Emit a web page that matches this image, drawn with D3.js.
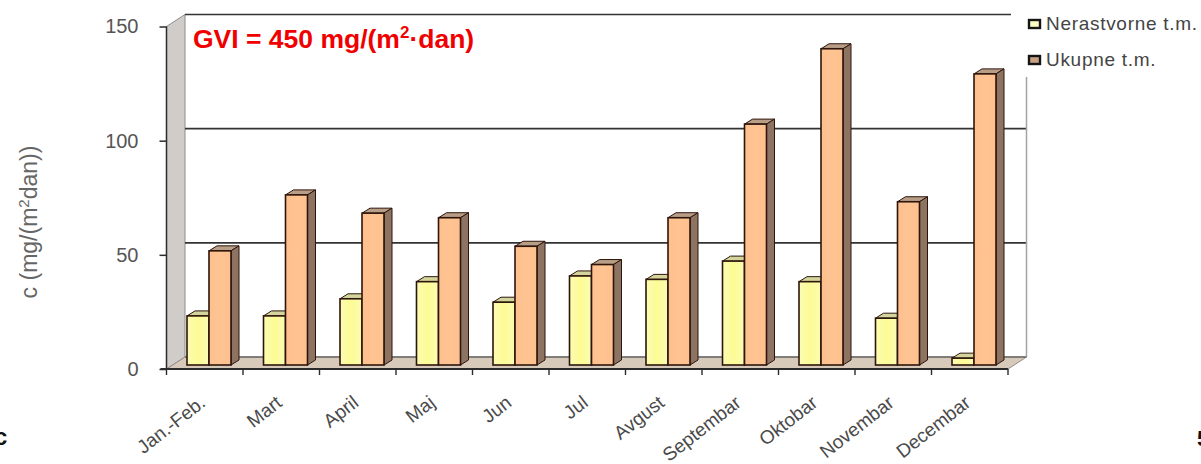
<!DOCTYPE html>
<html>
<head>
<meta charset="utf-8">
<style>
  html, body { margin: 0; padding: 0; background: #fff; overflow: hidden; }
  text { font-family: "Liberation Sans", Arial, sans-serif; }
</style>
<script src="https://cdn.jsdelivr.net/npm/d3@7/dist/d3.min.js"></script>
</head>
<body>
<svg id="chart" width="1201" height="464"></svg>
<script>
// Monthly deposited matter, mg/(m2·dan)
const categories = ["Jan.-Feb.", "Mart", "April", "Maj", "Jun", "Jul", "Avgust", "Septembar", "Oktobar", "Novembar", "Decembar"];
const seriesNames = ["Nerastvorne t.m.", "Ukupne t.m."];
const nerastvorne = [21.5, 21.5, 29, 36.5, 27.5, 39, 37.5, 45.5, 36.5, 20.5, 3];
const ukupne = [50, 74.5, 66.5, 64.5, 52, 44, 64.5, 105.5, 138.5, 71.5, 127.5];
const yTicks = [0, 50, 100, 150];

const svg = d3.select("#chart");

// Front plane of the pseudo-3D box and the offset of its back wall
const frontLeft = 166.5, frontRight = 1008, frontBase = 369, frontTop = 26.5;
const wallDx = 18.5, wallDy = -12;
const depthDx = 8, depthDy = -5;       // extrusion of each bar
const barDx = 6, barDy = -4;           // bars stand slightly inside the floor

const x = d3.scaleBand().domain(categories).range([frontLeft, frontRight]);
const inner = d3.scaleBand().domain(seriesNames).range([14.5, 58.5]);
const y = d3.scaleLinear().domain([0, 150]).range([frontBase, frontTop]);

const fills = {
  "Nerastvorne t.m.": { front: "url(#yellowFace)", top: "#d3d59c", side: "#a8a878", key: "#fdfcc6" },
  "Ukupne t.m.": { front: "url(#orangeFace)", top: "#b89d87", side: "#8d7462", key: "#c9a284" }
};

const defs = svg.append("defs");
function faceGradient(id, edge, mid) {
  const g = defs.append("linearGradient").attr("id", id);
  g.append("stop").attr("offset", "0%").attr("stop-color", edge);
  g.append("stop").attr("offset", "50%").attr("stop-color", mid);
  g.append("stop").attr("offset", "100%").attr("stop-color", edge);
}
faceGradient("yellowFace", "#fbfcb4", "#fdfb94");
faceGradient("orangeFace", "#fdbf8e", "#ffc492");

const poly = pts => pts.map(p => p.join(",")).join(" ");

// Side wall and floor
svg.append("polygon")
  .attr("points", poly([[frontLeft, y(150)], [frontLeft + wallDx, y(150) + wallDy], [frontLeft + wallDx, frontBase + wallDy], [frontLeft, frontBase]]))
  .attr("fill", "#cfccc9").attr("stroke", "#8f8c8a");
svg.append("polygon")
  .attr("points", poly([[frontLeft, frontBase], [frontLeft + wallDx, frontBase + wallDy], [frontRight + wallDx, frontBase + wallDy], [frontRight, frontBase]]))
  .attr("fill", "#d8cabb").attr("stroke", "#8f8c8a");

// Grid lines on the back wall
svg.append("g").selectAll("line").data(yTicks.slice(1)).join("line")
  .attr("x1", frontLeft + wallDx).attr("x2", frontRight + wallDx)
  .attr("y1", d => y(d) + wallDy).attr("y2", d => y(d) + wallDy)
  .attr("stroke", "#333").attr("stroke-width", 1.7);
svg.append("line")
  .attr("x1", frontRight + wallDx).attr("x2", frontRight + wallDx)
  .attr("y1", y(150) + wallDy).attr("y2", frontBase + wallDy)
  .attr("stroke", "#a3a3a3").attr("stroke-width", 1.5);
svg.append("line")
  .attr("x1", frontLeft + wallDx).attr("x2", frontRight + wallDx)
  .attr("y1", y(0) + wallDy).attr("y2", y(0) + wallDy)
  .attr("stroke", "#6d6a66").attr("stroke-width", 1.5);

// Extruded bars: top and side first, then the front face
function drawBar(g, cat, name, value) {
  const x0 = x(cat) + inner(name) + barDx;
  const w = inner.bandwidth();
  const yTop = y(value) + barDy;
  const yBase = y(0) + barDy;
  const c = fills[name];
  const stroke = "#2e150b";
  g.append("polygon")
    .attr("points", poly([[x0, yTop], [x0 + depthDx, yTop + depthDy], [x0 + w + depthDx, yTop + depthDy], [x0 + w, yTop]]))
    .attr("fill", c.top).attr("stroke", stroke).attr("stroke-width", 1);
  g.append("polygon")
    .attr("points", poly([[x0 + w, yTop], [x0 + w + depthDx, yTop + depthDy], [x0 + w + depthDx, yBase + depthDy], [x0 + w, yBase]]))
    .attr("fill", c.side).attr("stroke", stroke).attr("stroke-width", 1);
  g.append("rect")
    .attr("x", x0).attr("y", yTop).attr("width", w).attr("height", yBase - yTop)
    .attr("fill", c.front).attr("stroke", stroke).attr("stroke-width", 1.6);
}
const bars = svg.append("g");
categories.forEach((cat, i) => {
  drawBar(bars, cat, seriesNames[0], nerastvorne[i]);
  drawBar(bars, cat, seriesNames[1], ukupne[i]);
});

// Value axis
const yAxis = svg.append("g")
  .attr("transform", `translate(${frontLeft},0)`)
  .call(d3.axisLeft(y).tickValues(yTicks).tickSize(7).tickPadding(21));
yAxis.selectAll("path").attr("d", `M0,${y(150)}V${y(0)}`).attr("stroke", "#2b2b2b").attr("stroke-width", 1.5);
yAxis.selectAll("line").attr("stroke", "#2b2b2b").attr("stroke-width", 1.5);
yAxis.selectAll("text").attr("font-size", 20).attr("fill", "#555").attr("font-family", "'Liberation Sans'");

// Category axis: ticks sit on the band edges, labels on the band centres
const edges = d3.scaleBand().domain(categories).range([frontLeft, frontRight]);
const baseAxis = svg.append("g");
baseAxis.append("line")
  .attr("x1", frontLeft - 6).attr("x2", frontRight).attr("y1", frontBase).attr("y2", frontBase)
  .attr("stroke", "#2b2b2b").attr("stroke-width", 1.8);
baseAxis.selectAll("line.tick").data([...categories.map(c => edges(c)), frontRight]).join("line")
  .attr("class", "tick")
  .attr("x1", d => d).attr("x2", d => d).attr("y1", frontBase).attr("y2", frontBase + 6)
  .attr("stroke", "#2b2b2b").attr("stroke-width", 1.4);
baseAxis.selectAll("text").data(categories).join("text")
  .attr("transform", d => `translate(${edges(d) + edges.bandwidth() / 2 + 2},405) rotate(-38)`)
  .attr("text-anchor", "end")
  .attr("font-size", 19)
  .attr("fill", "#4a4a4a")
  .text(d => d);

// Value axis title
const yTitle = svg.append("text")
  .attr("transform", "translate(37,222) rotate(-90)")
  .attr("text-anchor", "middle")
  .attr("font-size", 23)
  .attr("fill", "#666");
yTitle.append("tspan").text("c (mg/(m");
yTitle.append("tspan").attr("dy", -8).attr("font-size", 15).text("2");
yTitle.append("tspan").attr("dy", 8).text("dan))");

// Limit value note
const note = svg.append("text")
  .attr("x", 193).attr("y", 48)
  .attr("font-size", 26.5).attr("font-weight", "bold").attr("fill", "#f00000");
note.append("tspan").text("GVI = 450 mg/(m");
note.append("tspan").attr("dy", -10).attr("font-size", 17).text("2");
note.append("tspan").attr("dy", 10).text("·dan)");

// Legend on its own white panel
svg.append("rect").attr("x", 1011).attr("y", 0).attr("width", 190).attr("height", 77).attr("fill", "#fff");
const legendY = [24, 60];
const legend = svg.append("g").selectAll("g").data(seriesNames).join("g")
  .attr("transform", (d, i) => `translate(1029,${legendY[i]})`);
legend.append("rect")
  .attr("x", 0).attr("y", -4).attr("width", 11).attr("height", 8)
  .attr("fill", d => fills[d].key).attr("stroke", "#151515").attr("stroke-width", 2.4);
legend.append("text")
  .attr("x", 17).attr("y", 6)
  .attr("font-size", 19).attr("letter-spacing", 0.7).attr("fill", "#444")
  .text(d => d);

// Fragments of the surrounding page text at the edges of the frame
svg.append("text").attr("x", -6).attr("y", 445).attr("font-size", 24).attr("font-weight", "bold").attr("fill", "#111").text("c");
svg.append("text").attr("x", 1197).attr("y", 446).attr("font-size", 22).attr("font-weight", "bold").attr("fill", "#111").text("5");
</script>
</body>
</html>
